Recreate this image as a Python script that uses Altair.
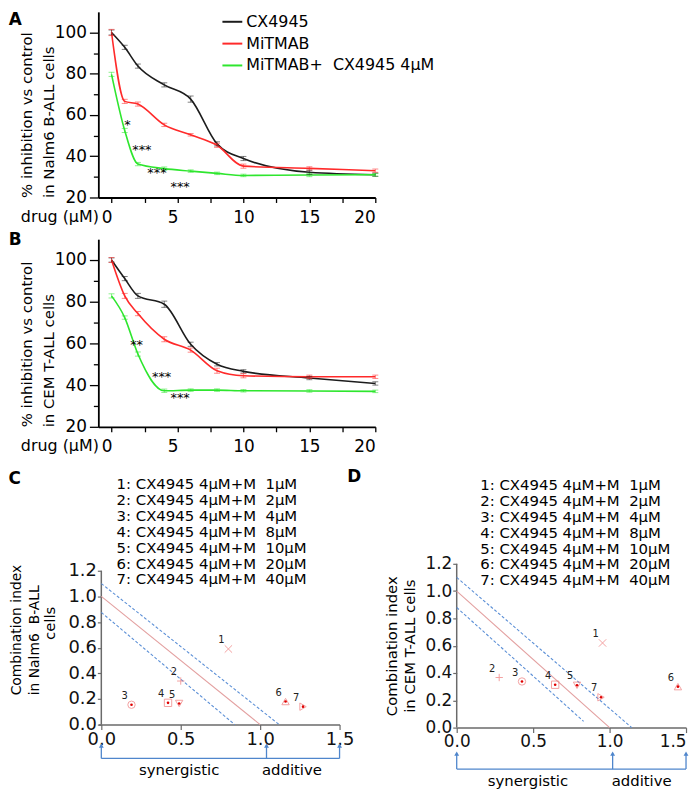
import altair as alt
import pandas as pd

FONT = "DejaVu Sans"

# ---------------- Panels A / B : dose response ----------------
doses = [0, 1, 2, 4, 6, 8, 10, 15, 20]
series_names = ["CX4945", "MiTMAB", "MiTMAB+\u00a0\u00a0CX4945 4\u03bcM"]
series_colors = ["#1c1c1c", "#ff2a2a", "#2ee62e"]

a_cx4945 = [100.0, 92.8, 83.7, 74.6, 67.7, 46.0, 38.9, 32.2, 31.0]
a_mitmab = [100.0, 66.6, 65.3, 55.2, 50.4, 45.3, 35.2, 34.1, 33.0]
a_combo = [79.7, 52.5, 36.2, 34.0, 32.8, 31.7, 30.7, 30.9, 31.0]
a_cx4945_err = [1.2, 1.0, 1.0, 1.0, 1.5, 1.0, 1.0, 1.0, 0.8]
a_mitmab_err = [1.5, 1.0, 1.0, 0.8, 0.6, 1.0, 1.0, 0.8, 0.8]
a_combo_err = [1.0, 1.0, 0.8, 0.8, 0.6, 0.6, 0.6, 0.8, 0.6]
a_star_x = [1.2, 2.3, 3.45, 5.2]
a_star_y = [57.0, 44.8, 33.8, 26.9]
a_star_t = ["*", "***", "***", "***"]

b_cx4945 = [100.0, 91.1, 82.8, 78.8, 59.6, 50.0, 46.6, 43.4, 40.8]
b_mitmab = [100.0, 82.8, 74.3, 62.0, 56.8, 46.9, 44.5, 44.0, 44.0]
b_combo = [82.8, 72.4, 54.9, 37.3, 37.6, 37.6, 37.3, 37.2, 37.0]
b_cx4945_err = [1.0, 1.0, 1.2, 1.5, 1.0, 0.8, 0.8, 0.8, 0.8]
b_mitmab_err = [1.2, 1.2, 1.0, 1.2, 1.0, 1.2, 1.0, 0.8, 0.8]
b_combo_err = [1.0, 0.8, 1.0, 0.8, 0.6, 0.6, 0.6, 0.6, 0.6]
b_star_x = [1.9, 3.8, 5.2]
b_star_y = [60.9, 45.8, 35.7]
b_star_t = ["**", "***", "***"]

# ---------------- Panels C / D : combination index ----------------
combo_ids = ["1", "2", "3", "4", "5", "6", "7"]
combo_text = [
    "1: CX4945 4\u03bcM+M\u00a0\u00a01\u03bcM",
    "2: CX4945 4\u03bcM+M\u00a0\u00a02\u03bcM",
    "3: CX4945 4\u03bcM+M\u00a0\u00a04\u03bcM",
    "4: CX4945 4\u03bcM+M\u00a0\u00a08\u03bcM",
    "5: CX4945 4\u03bcM+M\u00a0\u00a010\u03bcM",
    "6: CX4945 4\u03bcM+M\u00a0\u00a020\u03bcM",
    "7: CX4945 4\u03bcM+M\u00a0\u00a040\u03bcM",
]
marker_shapes = ["M-1,-1L1,1M-1,1L1,-1", "M-1,0L1,0M0,-1L0,1", "circle", "square",
                 "triangle-down", "triangle-up", "triangle-right"]
dotted_ids = ["3", "4", "5", "6", "7"]

c_fa = [0.80, 0.50, 0.19, 0.42, 0.49, 1.16, 1.27]
c_ci = [0.59, 0.34, 0.155, 0.17, 0.165, 0.18, 0.14]
d_fa = [0.954, 0.278, 0.427, 0.644, 0.787, 1.447, 0.944]
d_ci = [0.62, 0.367, 0.338, 0.314, 0.31, 0.30, 0.222]

additive_x = [0.0, 1.0]
additive_y = [1.0, 0.0]
c_upper_x = [0.0, 1.12]
c_upper_y = [1.1, 0.0]
c_lower_x = [0.0, 0.84]
c_lower_y = [0.875, 0.0]
d_upper_x = [0.0, 1.145]
d_upper_y = [1.1, 0.0]
d_lower_x = [0.0, 0.83]
d_lower_y = [0.88, 0.046]

c_arrow_x = [0.0, 1.04, 1.5]
d_arrow_x = [0.0, 1.02, 1.5]
arrow_words = ["synergistic", "additive"]
c_word_x = [0.49, 1.20]
d_word_x = [0.466, 1.21]


def dose_chart(vals, errs, sx, sy, st, ytitle, letter, height, legend_y):
    rows = []
    for name, v_list, e_list in zip(series_names, vals, errs):
        for d, v, e in zip(doses, v_list, e_list):
            rows.append({"dose": d, "value": v, "lo": v - e, "hi": v + e, "series": name})
    df = pd.DataFrame(rows)
    xs = alt.Scale(domain=[-1, 20], nice=False, zero=False)
    ys = alt.Scale(domain=[20, 110], nice=False, zero=False)
    cs = alt.Scale(domain=series_names, range=series_colors)
    xaxis = alt.Axis(
        values=[0, 2.5, 5, 7.5, 10, 12.5, 15, 17.5, 20],
        labelExpr="datum.value % 5 === 0 ? format(datum.value, 'd') : ''",
        labelOffset={"condition": {"test": "datum.value < 10", "value": -5}, "value": 0},
        tickSize=5, labelPadding=7, labelFontSize=17, labelColor="black",
        domainColor="black", domainWidth=1.8, tickColor="black", tickWidth=1.3,
        title="drug (\u03bcM)", titleX=0, titleY=24, titleAlign="right",
        titleBaseline="alphabetic", titleFontSize=16, titleFontWeight="normal",
        titleColor="black", grid=False, labelOverlap=False,
    )
    yaxis = alt.Axis(
        values=[20, 30, 40, 50, 60, 70, 80, 90, 100],
        labelExpr="datum.value % 20 === 0 ? format(datum.value, 'd') : ''",
        tickSize={"condition": {"test": "datum.value % 20 === 0", "value": 9}, "value": 5},
        labelPadding=3, labelFontSize=17, labelColor="black",
        domainColor="black", domainWidth=1.8, tickColor="black", tickWidth=1.3,
        title=ytitle, titleAngle=270, titleAlign="left", titleBaseline="middle",
        titleX=-72, titleY=height, titleFontSize=15, titleLineHeight=22,
        titleFontWeight="normal", titleColor="black", grid=False, labelOverlap=False,
    )
    X = alt.X("dose:Q", scale=xs, axis=xaxis)
    Y = alt.Y("value:Q", scale=ys, axis=yaxis)
    legend = alt.Legend(
        title=None, orient="none", legendX=124, legendY=legend_y,
        symbolType="stroke", symbolSize=400, symbolStrokeWidth=2,
        labelFont=FONT, labelFontSize=16, labelColor="black", labelOffset=3,
        rowPadding=3, padding=0, labelLimit=400,
    )
    base = alt.Chart(df)
    lines = base.mark_line(interpolate="monotone", strokeWidth=1.6).encode(
        x=X, y=Y, color=alt.Color("series:N", scale=cs, legend=legend)
    )
    bars = base.mark_rule(strokeWidth=1, opacity=0.55).encode(
        x=X, y=alt.Y("lo:Q", scale=ys, axis=yaxis), y2="hi:Q",
        stroke=alt.Stroke("series:N", scale=cs, legend=None),
    )
    cap_lo = base.mark_tick(orient="horizontal", size=6, thickness=1, opacity=0.55).encode(
        x=X, y=alt.Y("lo:Q", scale=ys, axis=yaxis),
        fill=alt.Fill("series:N", scale=cs, legend=None),
    )
    cap_hi = base.mark_tick(orient="horizontal", size=6, thickness=1, opacity=0.55).encode(
        x=X, y=alt.Y("hi:Q", scale=ys, axis=yaxis),
        fill=alt.Fill("series:N", scale=cs, legend=None),
    )
    stars = alt.Chart(pd.DataFrame({"dose": sx, "value": sy, "t": st})).mark_text(
        font=FONT, fontSize=13, baseline="middle", align="center", color="black", dy=4
    ).encode(x=X, y=Y, text="t:N")
    lab = alt.Chart(pd.DataFrame({"dose": [-7.3], "value": [letter[1]], "t": [letter[0]]})).mark_text(
        font=FONT, fontSize=17, fontWeight="bold", baseline="top", align="center", color="black"
    ).encode(x=X, y=Y, text="t:N")
    return alt.layer(lines, bars, cap_lo, cap_hi, stars, lab).properties(width=279, height=height)


def ci_chart(fa, ci, upper, lower, arrow_x, word_x, geo, ytitle, ytitle_pos, letter,
             lab_size, title_size, x_pad, top_pad, extra=None):
    width, height, txt_x, txt_y0, txt_step, base_y, tip_y, word_y = geo
    px_per_x = width / 1.5
    px_per_y = height / 1.2
    xs = alt.Scale(domain=[-x_pad / px_per_x, 1.5], nice=False, zero=False)
    ys = alt.Scale(domain=[0, 1.2 + top_pad / px_per_y], nice=False, zero=False)
    axis_col = "#6a6a6a"
    xaxis = alt.Axis(
        values=[0, 0.5, 1.0, 1.5], format=".1f", labelFontSize=lab_size, labelColor="#111",
        labelAlign={"condition": {"test": "datum.value === 1.5 && %s" % ("true" if x_pad == 0 else "false"),
                                  "value": "right"}, "value": "center"},
        tickSize=5, labelPadding=1, domainColor=axis_col, domainWidth=1.5,
        tickColor=axis_col, tickWidth=1.2, title="", grid=False, labelOverlap=False,
    )
    tx, ty, talign = ytitle_pos
    yaxis = alt.Axis(
        values=[0, 0.2, 0.4, 0.6, 0.8, 1.0, 1.2], format=".1f", labelFontSize=lab_size,
        labelColor="#111", tickSize=4, labelPadding=1, domain=False, offset=-x_pad,
        tickColor=axis_col, tickWidth=1.2,
        title=ytitle, titleAngle=270, titleAlign=talign, titleBaseline="middle",
        titleX=tx, titleY=ty + top_pad, titleFontSize=title_size, titleLineHeight=18,
        titleFontWeight="normal", titleColor="black", grid=False, labelOverlap=False,
    )
    X = alt.X("x:Q", scale=xs, axis=xaxis)
    Y = alt.Y("y:Q", scale=ys, axis=yaxis)

    y_axis_line = alt.Chart(pd.DataFrame({"x": [0.0], "y": [0.0], "y2": [1.2]})).mark_rule(
        color=axis_col, strokeWidth=1.5
    ).encode(x=X, y=Y, y2="y2:Q")

    pts = pd.DataFrame({"x": fa, "y": ci, "id": combo_ids})
    points = alt.Chart(pts).mark_point(filled=False, size=55, strokeWidth=1, color="#ef7a7a").encode(
        x=X, y=Y,
        shape=alt.Shape("id:N", scale=alt.Scale(domain=combo_ids, range=marker_shapes), legend=None),
    )
    dots = alt.Chart(pts[pts["id"].isin(dotted_ids)]).mark_point(
        filled=True, size=7, color="#e00000", opacity=1
    ).encode(x=X, y=Y)
    nums = alt.Chart(pts).mark_text(font=FONT, fontSize=10, dx=-7, dy=-9, color="#222").encode(
        x=X, y=Y, text="id:N"
    )
    add_line = alt.Chart(pd.DataFrame({"x": additive_x, "y": additive_y})).mark_line(
        color="#e3a0a0", strokeWidth=1.1
    ).encode(x=X, y=Y)
    band_rows = [{"x": a, "y": b, "k": "upper"} for a, b in zip(*upper)] + \
                [{"x": a, "y": b, "k": "lower"} for a, b in zip(*lower)]
    bands = alt.Chart(pd.DataFrame(band_rows)).mark_line(
        color="#5b8fd6", strokeWidth=1.1, strokeDash=[3, 2]
    ).encode(x=X, y=Y, detail="k:N")

    ann_col = "#4f86cc"
    hline = alt.Chart(pd.DataFrame({"x": [arrow_x[0]], "x2": [arrow_x[-1]], "y": [base_y]})).mark_rule(
        color=ann_col, strokeWidth=1.3
    ).encode(x=X, x2="x2:Q", y=Y)
    vlines = alt.Chart(pd.DataFrame({"x": arrow_x, "y": [base_y] * 3, "y2": [tip_y] * 3})).mark_rule(
        color=ann_col, strokeWidth=1.3
    ).encode(x=X, y=Y, y2="y2:Q")
    heads = alt.Chart(pd.DataFrame({"x": arrow_x, "y": [tip_y] * 3})).mark_point(
        shape="triangle-up", filled=True, size=24, color=ann_col, opacity=1
    ).encode(x=X, y=Y)
    words = alt.Chart(pd.DataFrame({"x": word_x, "y": [word_y] * 2, "t": arrow_words})).mark_text(
        font=FONT, fontSize=15, baseline="middle", align="center", color="black"
    ).encode(x=X, y=Y, text="t:N")
    leg = alt.Chart(pd.DataFrame({
        "x": [txt_x] * 7,
        "y": [txt_y0 - txt_step * i for i in range(7)],
        "t": combo_text,
    })).mark_text(font=FONT, fontSize=15, baseline="middle", align="left", color="black").encode(
        x=X, y=Y, text="t:N"
    )
    lab = alt.Chart(pd.DataFrame({"x": [letter[1]], "y": [letter[2]], "t": [letter[0]]})).mark_text(
        font=FONT, fontSize=17, fontWeight="bold", baseline="middle", align="center", color="black"
    ).encode(x=X, y=Y, text="t:N")
    layers = [y_axis_line, add_line, bands, points, dots, nums, hline, vlines, heads, words, leg, lab]
    if extra is not None:
        ex = alt.Chart(pd.DataFrame({"x": [extra[1]], "y": [extra[2]], "t": [extra[0]]})).mark_text(
            font=FONT, fontSize=15, angle=270, baseline="middle", align="center", color="black"
        ).encode(x=X, y=Y, text="t:N")
        layers.append(ex)
    return alt.layer(*layers).properties(width=width + x_pad, height=height + top_pad)


def spacer(w, h):
    return alt.Chart(pd.DataFrame({"s": [0]})).mark_point(opacity=0, size=1).properties(width=w, height=h)


chart_a = dose_chart(
    [a_cx4945, a_mitmab, a_combo], [a_cx4945_err, a_mitmab_err, a_combo_err],
    a_star_x, a_star_y, a_star_t,
    ["% inhibition vs control", "in Nalm6 B-ALL cells"], ("A", 110.0), 187, -1,
)
chart_b = dose_chart(
    [b_cx4945, b_mitmab, b_combo], [b_cx4945_err, b_mitmab_err, b_combo_err],
    b_star_x, b_star_y, b_star_t,
    ["% inhibition vs control", "in CEM T-ALL cells"], ("B", 113.4), 189, -1,
)

chart_c = ci_chart(
    c_fa, c_ci, (c_upper_x, c_upper_y), (c_lower_x, c_lower_y), c_arrow_x, c_word_x,
    (240, 155, 0.096, 1.876, 0.124, -0.264, -0.163, -0.357),
    ["Combination index", "in Nalm6\u00a0\u00a0B-ALL"], (-85, 125, "left"),
    ("C", -0.545, 1.912), 18, 14, 3, 7, extra=("cells", -0.325, 0.79),
)
chart_d = ci_chart(
    d_fa, d_ci, (d_upper_x, d_upper_y), (d_lower_x, d_lower_y), d_arrow_x, d_word_x,
    (231, 165, 0.154, 1.775, 0.116, -0.304, -0.19, -0.395),
    ["Combination index", "in CEM T-ALL cells"], (-66, 82.5, "center"),
    ("D", -0.67, 1.833), 17, 15, 0, 0,
)

chart = alt.concat(
    chart_a, spacer(1, 1),
    chart_b, spacer(1, 1),
    spacer(1, 54), spacer(1, 1),
    chart_c, chart_d,
    columns=2, spacing={"row": 42, "column": 82}, bounds="flush", align="each",
).properties(
    padding={"left": 0, "top": 0, "right": 0, "bottom": 0}
).configure_view(stroke=None).configure_axis(
    labelFont=FONT, titleFont=FONT, grid=False
).configure_text(font=FONT)

chart.save("out.html", embed_options={"renderer": "svg", "actions": False})
